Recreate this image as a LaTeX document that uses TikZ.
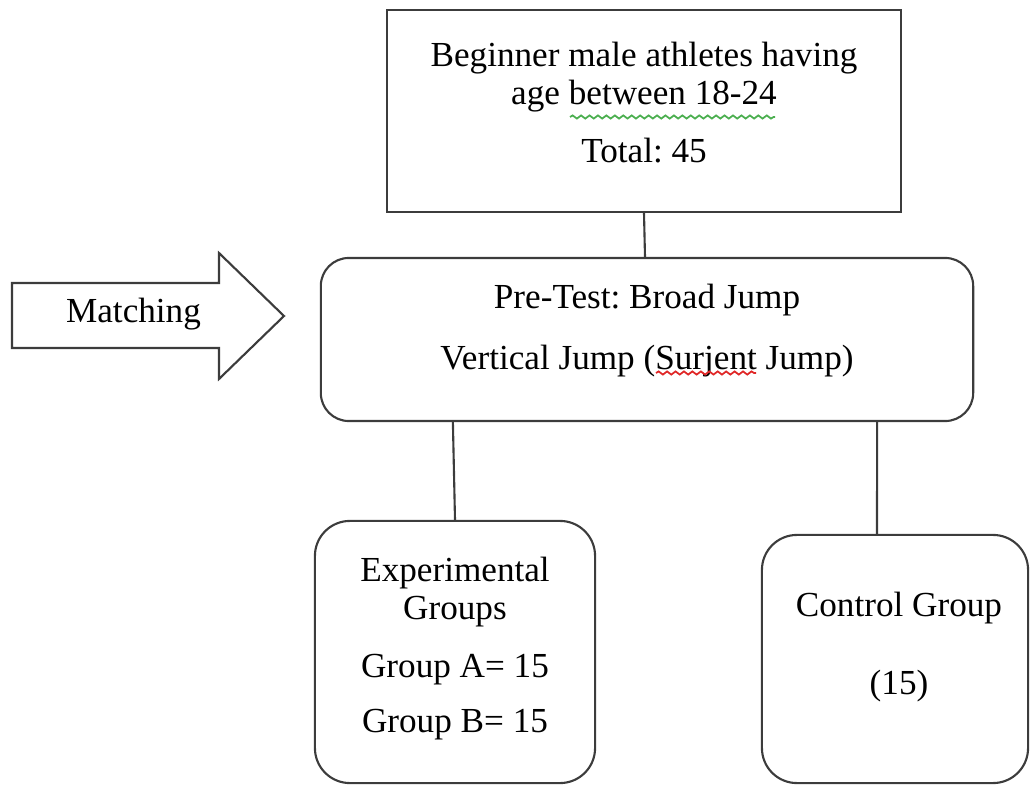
\documentclass[tikz,border=0pt]{standalone}
\usepackage{fontspec}
\setmainfont{Liberation Serif}
\usepackage{tikz}
\usepackage{xcolor}
\usetikzlibrary{calc}
\usetikzlibrary{decorations}
\usetikzlibrary{decorations.pathmorphing}
\usetikzlibrary{positioning}
\frenchspacing

\definecolor{edgegray}{HTML}{3C3C3C}
\definecolor{spellgreen}{HTML}{4CAF50}
\definecolor{spellred}{HTML}{E02828}

\begin{document}
\begin{tikzpicture}[x=0.01cm, y=-0.01cm,
    box/.style={draw=edgegray, line width=0.6pt, rectangle, inner sep=0pt},
    rbox/.style={box, rounded corners=#1},
    txt/.style={align=center, inner sep=0pt, anchor=north, font=\fontsize{10}{11}\selectfont},
    squiggle/.style={line width=0.5pt, decorate, decoration={snake, amplitude=0.45pt, segment length=2.4pt}}]
    \path[use as bounding box] (0,0) rectangle (1030,785);

\node[box, minimum width=5.14cm, minimum height=2.02cm] (pop) at (644,111) {};
\node[rbox=0.28cm, minimum width=6.52cm, minimum height=1.63cm] (pretest) at (647,339.5) {};
\node[rbox=0.35cm, minimum width=2.80cm, minimum height=2.62cm] (exp) at (455,652) {};
\node[rbox=0.35cm, minimum width=2.66cm, minimum height=2.48cm] (ctrl) at (895,659) {};

\node[txt] (popText) at (644,41) {Beginner male athletes having\\age between 18-24\\[5.5pt]Total: 45};
\node[txt] (pretestText) at (647,283) {Pre-Test: Broad Jump\\[6.35pt]Vertical Jump (Surjent Jump)};
\node[txt] (expText) at (455,556) {Experimental\\Groups\\[5.5pt]Group A= 15\\[4.6pt]Group B= 15};
\node[txt] (ctrlText) at (899,591) {Control Group\\[11.2pt](15)};

% matching arrow
\draw[draw=edgegray, line width=0.6pt, fill=white] (12,283) -- (219,283) -- (219,253) -- (284,316)
  -- (219,379) -- (219,348) -- (12,348) -- cycle;
\node[txt, anchor=base] (matchText) at (133.5,322) {Matching};

\draw[edgegray, line width=0.6pt] (pop.south) -- ([xshift=-0.02cm]pretest.north);
\draw[edgegray, line width=0.6pt] ([xshift=-1.94cm]pretest.south) -- (exp.north);
\draw[edgegray, line width=0.6pt] ([xshift=2.3cm]pretest.south) -- ([xshift=-0.18cm]ctrl.north);

%spell check marks
\draw[squiggle, spellgreen] (570,117) -- (775,117);
\draw[squiggle, spellred] (656,373) -- (756,373);
\end{tikzpicture}
\end{document}
